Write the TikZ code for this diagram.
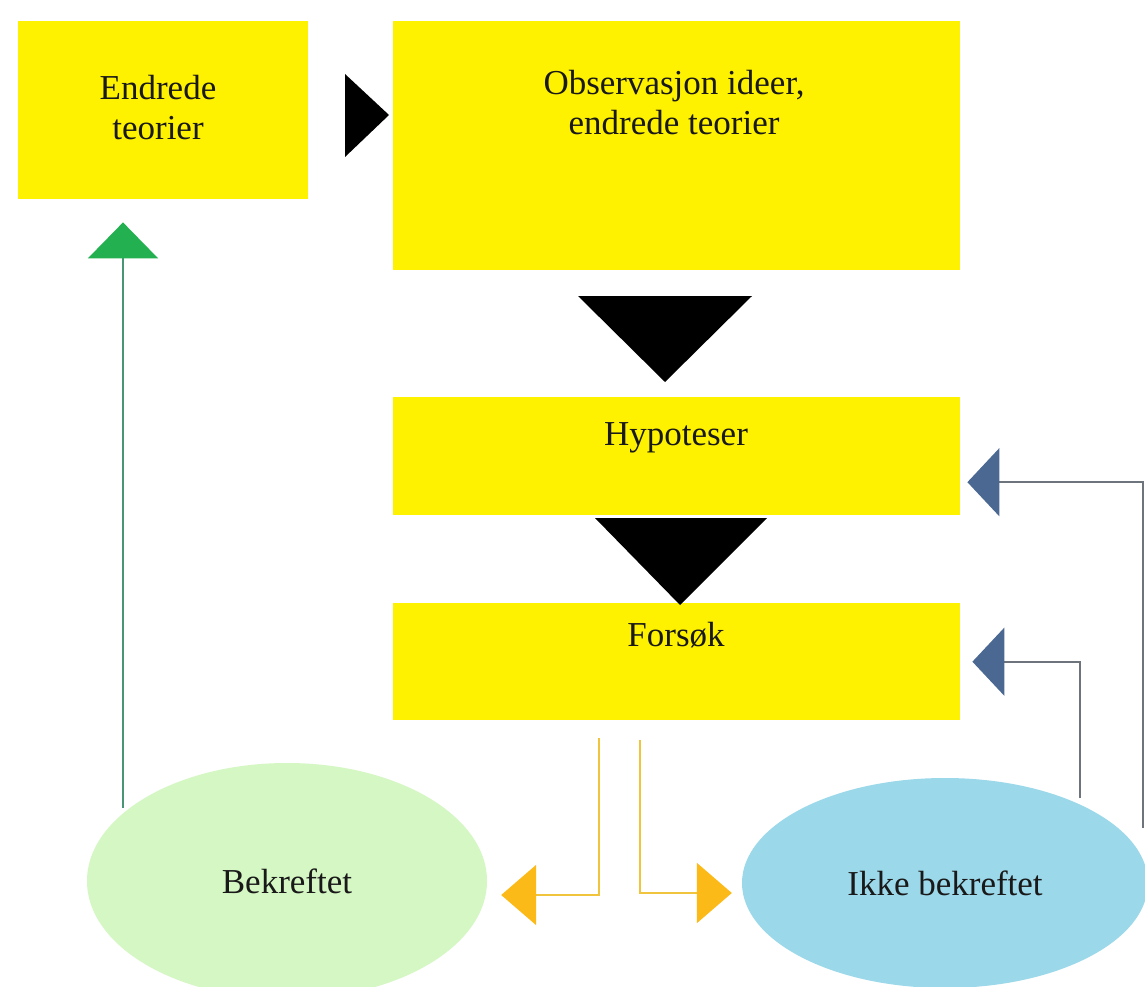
\documentclass[tikz,border=0pt]{standalone}
\usepackage{fontspec}
\setmainfont{Liberation Serif}
\usetikzlibrary{arrows.meta,shapes.geometric}

\definecolor{boxyellow}{RGB}{255,242,0}
\definecolor{tipgreen}{RGB}{34,176,80}
\definecolor{linegreen}{RGB}{72,150,118}
\definecolor{okfill}{RGB}{212,247,195}
\definecolor{nokfill}{RGB}{155,216,234}
\definecolor{tipblue}{RGB}{74,104,146}
\definecolor{linegray}{RGB}{110,116,124}
\definecolor{tiporange}{RGB}{251,186,24}
\definecolor{lineorange}{RGB}{240,196,60}
\definecolor{ink}{RGB}{25,25,25}

\begin{document}
\begin{tikzpicture}[x=1pt,y=-1pt,
  box/.style={fill=boxyellow, draw=none, inner sep=0pt, anchor=north west},
  oval/.style={ellipse, draw=none, inner sep=0pt, text=ink,
               font=\fontsize{35}{40}\selectfont},
  label text/.style={text=ink, inner sep=0pt, align=center, anchor=base,
               font=\fontsize{35}{40}\selectfont},
  bigtri/.style={fill=black, draw=none},
  greencon/.style={draw=linegreen, line width=2pt,
               -{Triangle[length=36pt,width=70pt,fill=tipgreen,color=tipgreen]}},
  bluecon/.style={draw=linegray, line width=2pt, line join=miter,
               -{Triangle[length=32pt,width=68pt,fill=tipblue,color=tipblue]}},
  orangecon/.style={draw=lineorange, line width=2pt, line join=miter,
               -{Triangle[length=35pt,width=60pt,fill=tiporange,color=tiporange]}}
]
\useasboundingbox[fill=white] (0,0) rectangle (1145,987);

% yellow boxes
\node[box, minimum width=290pt, minimum height=178pt] (endr) at (18,21) {};
\node[box, minimum width=567pt, minimum height=249pt] (obs)  at (393,21) {};
\node[box, minimum width=567pt, minimum height=118pt] (hyp)  at (393,397) {};
\node[box, minimum width=567pt, minimum height=117pt] (fors) at (393,603) {};

% box texts (base anchor sits on the last line)
\node[label text] (endrT) at (158,140) {Endrede\\teorier};
\node[label text] (obsT)  at (674,135) {Observasjon ideer,\\endrede teorier};
\node[label text] (hypT)  at (676,445) {Hypoteser};
\node[label text] (forsT) at (676,646) {Forsøk};

% outcome ellipses
\node[oval, fill=okfill,  minimum width=400pt, minimum height=236pt] (bek)  at (287,881) {Bekreftet};
\node[oval, fill=nokfill, minimum width=406pt, minimum height=210pt] (ikke) at (945,883) {Ikke bekreftet};

% flow triangles between the boxes
\fill[bigtri] (345,74) -- (389,115) -- (345,157) -- cycle;
\fill[bigtri] (578,296) -- (752,296) -- (665,382) -- cycle;
\fill[bigtri] (595,518) -- (767,518) -- (680,605) -- cycle;

% feedback connectors
\coordinate (gstart) at (123,808);
\draw[greencon, shorten >=23pt] (gstart) -- (gstart |- endr.south);

\coordinate (b1) at (1143,828);
\coordinate (b2) at (1080,798);
\draw[bluecon, shorten >=7pt]  (b1) |- ([yshift=-26pt]hyp.east);
\draw[bluecon, shorten >=12pt] (b2) |- (fors.east);

\coordinate (o1) at (599,738);
\coordinate (o2) at (640,740);
\draw[orangecon, shorten >=14pt] (o1) |- ([yshift=-14pt]bek.east);
\draw[orangecon, shorten >=10pt] (o2) |- ([yshift=-10pt]ikke.west);
\end{tikzpicture}
\end{document}
